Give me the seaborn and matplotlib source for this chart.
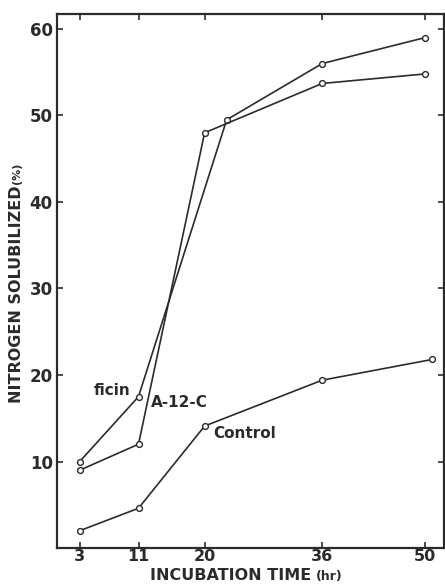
import pandas as pd
import matplotlib
matplotlib.use("Agg")
import matplotlib.pyplot as plt
import seaborn as sns

# values
ficin_hr = [3, 11, 23, 36, 50]
ficin_pct = [10, 17.5, 49.5, 56, 59]
a12c_hr = [3, 11, 20, 36, 50]
a12c_pct = [9, 12, 48, 53.7, 54.8]
control_hr = [3, 11, 20, 36, 51]
control_pct = [2, 4.6, 14.1, 19.4, 21.8]
xticks = [3, 11, 20, 36, 50]
yticks = [10, 20, 30, 40, 50, 60]

sns.set_style("ticks")
plt.rcParams['font.family'] = ['DejaVu Sans']

df = pd.concat([
    pd.DataFrame({'hr': ficin_hr, 'pct': ficin_pct, 'enzyme': 'ficin'}),
    pd.DataFrame({'hr': a12c_hr, 'pct': a12c_pct, 'enzyme': 'A-12-C'}),
    pd.DataFrame({'hr': control_hr, 'pct': control_pct, 'enzyme': 'Control'}),
])

fig = plt.figure(figsize=(4.45, 5.84), dpi=100)
ax = fig.add_axes([0.128, 0.0616, 0.87, 0.914])

ink = '#2b2b2b'
for name, grp in df.groupby('enzyme', sort=False):
    sns.lineplot(data=grp, x='hr', y='pct', ax=ax, color=ink, lw=1.2,
                 marker='o', markersize=4.2, markerfacecolor='white',
                 markeredgecolor=ink, markeredgewidth=1.0, legend=False)

ax.set_xlim(-0.1, 52.6)
ax.set_ylim(0, 61.7)
ax.set_xticks(xticks)
ax.set_yticks(yticks)
ax.set_xticklabels([str(t) for t in xticks], fontsize=11.5, fontweight='bold', color=ink)
ax.set_yticklabels([str(t) for t in yticks], fontsize=12, fontweight='bold', color=ink)
ax.tick_params(axis='both', direction='in', length=4, width=1.2, color=ink,
               top=True, right=True, pad=3)
ax.tick_params(axis='x', pad=1)
for sp in ax.spines.values():
    sp.set_linewidth(1.6)
    sp.set_color(ink)
ax.set_xlabel('')
ax.set_ylabel('')

# curve labels
ax.text(7.4, 18.2, 'ficin', fontsize=11, fontweight='bold', color=ink, ha='center', va='center')
ax.text(16.6, 16.8, 'A-12-C', fontsize=11, fontweight='bold', color=ink, ha='center', va='center')
ax.text(25.5, 13.2, 'Control', fontsize=11, fontweight='bold', color=ink, ha='center', va='center')

# axis titles
fig.text(150 / 445, 0.006, 'INCUBATION TIME', fontsize=11.5, fontweight='bold', color=ink,
         ha='left', va='baseline')
fig.text(316 / 445, 0.006, '(hr)', fontsize=9, fontweight='bold', color=ink,
         ha='left', va='baseline')
fig.text(17 / 445, (584 - 403) / 584, 'NITROGEN SOLUBILIZED', fontsize=11.5, fontweight='bold',
         color=ink, rotation=90, ha='center', va='bottom')
fig.text(17 / 445, (584 - 184) / 584, '(%)', fontsize=8, fontweight='bold',
         color=ink, rotation=90, ha='center', va='bottom')

fig.savefig('out.png', dpi=100, facecolor='white')
